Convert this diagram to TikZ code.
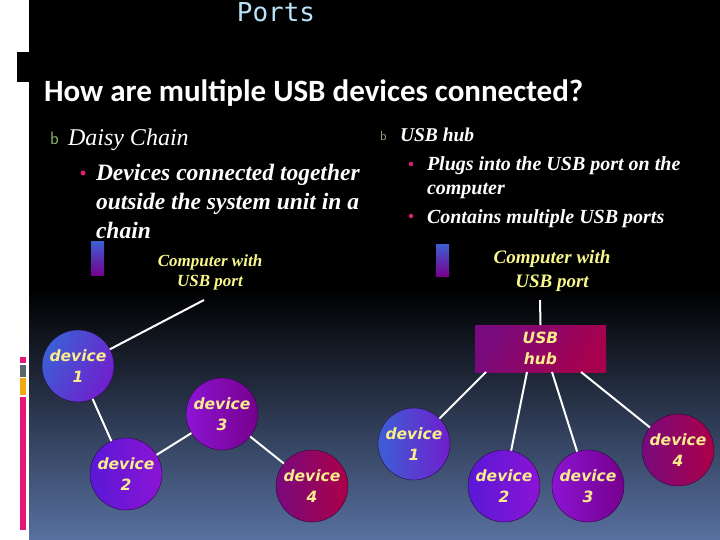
\documentclass[tikz,border=0pt]{standalone}
\usepackage{fontspec}
\setmainfont{Liberation Serif}
\newfontfamily\headfont{Carlito}
\newfontfamily\codefont{DejaVu Sans Mono}
\newfontfamily\devfont{DejaVu Sans}
\definecolor{titleblue}{RGB}{185,228,248}
\definecolor{devtxt}{RGB}{250,238,140}
\definecolor{pctxt}{RGB}{250,248,140}
\definecolor{dotpink}{RGB}{222,30,120}
\definecolor{bgreen}{RGB}{140,180,110}
\definecolor{bgbottom}{RGB}{88,112,160}
\definecolor{linecol}{RGB}{40,10,60}
\definecolor{barpink}{RGB}{228,22,120}
\definecolor{bargray}{RGB}{90,100,110}
\definecolor{barorange}{RGB}{240,170,20}
\definecolor{cblue}{RGB}{60,95,212}
\definecolor{cviolet}{RGB}{112,30,205}
\definecolor{cpurple}{RGB}{140,20,212}
\definecolor{cplum}{RGB}{118,0,140}
\definecolor{cberry}{RGB}{120,10,125}
\definecolor{ccrimson}{RGB}{172,0,72}
\begin{document}
\begin{tikzpicture}[x=1pt,y=1pt,inner sep=0pt,outer sep=0pt,
devnode/.style={circle,draw=linecol,thin,minimum size=72pt,align=center,text=devtxt,
  font={\devfont\bfseries\itshape\fontsize{15.5}{21}\selectfont}},
pcbox/.style={rectangle,minimum width=13pt,minimum height=34pt,top color=cblue,bottom color=cplum},
pclabel/.style 2 args={align=center,text=pctxt,font={\bfseries\itshape\fontsize{#1}{#2}\selectfont}},
link/.style={draw=white,line width=2pt},
dot/.style={circle,fill=dotpink,minimum size=5pt}]
\useasboundingbox (0,0) rectangle (720,-540);
\fill[white] (0,0) rectangle (720,-540);
\fill[black] (29,0) rectangle (720,-290);
\shade[top color=black,bottom color=bgbottom] (29,-290) rectangle (720,-540);
\fill[black] (17,-52) rectangle (29,-82);
\fill[barpink] (20,-357) rectangle (26,-363);
\fill[bargray] (20,-365) rectangle (26,-377);
\fill[barorange] (20,-378) rectangle (26,-395);
\fill[barpink] (20,-397) rectangle (26,-530);
\draw (276,-22) node[anchor=base,text=titleblue,font={\codefont\fontsize{26}{30}\selectfont}] (ttl) {Ports};
\draw (44,-102) node[anchor=base west,text=white,font={\headfont\bfseries\fontsize{31}{36}\selectfont}] (qst) {How are multiple USB devices connected?};
% daisy chain text
\draw (50,-145) node[anchor=base west,text=bgreen,font={\sffamily\fontsize{18}{20}\selectfont}] (bA) {b};
\draw (68,-146) node[anchor=base west,text=white,font={\itshape\fontsize{24}{29}\selectfont}] (dsy) {Daisy Chain};
\draw (83,-173) node[dot] (dotA) {};
\draw (96,-181) node[anchor=base west,text=white,font={\bfseries\itshape\fontsize{23.5}{29}\selectfont}] (dsyA) {Devices connected together};
\draw (96,-210) node[anchor=base west,text=white,font={\bfseries\itshape\fontsize{23.5}{29}\selectfont}] (dsyB) {outside the system unit in a};
\draw (96,-238) node[anchor=base west,text=white,font={\bfseries\itshape\fontsize{23.5}{29}\selectfont}] (dsyC) {chain};
% hub text
\draw (380,-141) node[anchor=base west,text=bgreen!80!gray,font={\sffamily\fontsize{13}{15}\selectfont}] (bB) {b};
\draw (400,-142) node[anchor=base west,text=white,font={\bfseries\itshape\fontsize{19.5}{24}\selectfont}] (hbt) {USB hub};
\draw (411,-164) node[dot,minimum size=4.5pt] (dotB) {};
\draw (427,-171) node[anchor=base west,text=white,font={\bfseries\itshape\fontsize{20}{24}\selectfont}] (hbtA) {Plugs into the USB port on the};
\draw (427,-195) node[anchor=base west,text=white,font={\bfseries\itshape\fontsize{20}{24}\selectfont}] (hbtB) {computer};
\draw (411,-216) node[dot,minimum size=4.5pt] (dotC) {};
\draw (427,-223) node[anchor=base west,text=white,font={\bfseries\itshape\fontsize{20}{24}\selectfont}] (hbtC) {Contains multiple USB ports};
% daisy chain picture
\draw (97.5,-258.5) node[pcbox] (pcA) {};
\draw (210,-272) node[pclabel={17}{20}] (pcAl) {Computer with\\USB port};
\coordinate (pcAp) at (204,-300);
\draw (78,-366) node[devnode,left color=cblue,right color=cviolet,shading angle=60] (dcA) {device\\1};
\draw (126,-474) node[devnode,left color=cviolet!80!blue,right color=cpurple] (dcB) {device\\2};
\draw (222,-414) node[devnode,left color=cpurple,right color=cplum] (dcC) {device\\3};
\draw (312,-486) node[devnode,left color=cberry,right color=ccrimson] (dcD) {device\\4};
\draw[link] (pcAp) -- (dcA);
\draw[link] (dcA) -- (dcB);
\draw[link] (dcB) -- (dcC);
\draw[link] (dcC) -- (dcD);
% hub picture
\draw (442.5,-260) node[pcbox,minimum height=32pt] (pcB) {};
\draw (552,-271) node[pclabel={19}{23.5}] (pcBl) {Computer with\\USB port};
\coordinate (pcBp) at (540,-300);
\draw (540.5,-348.5) node[rectangle,minimum width=131pt,minimum height=47pt,left color=cberry,right color=ccrimson!90!cberry,shading angle=60,align=center,text=devtxt,
  font={\devfont\bfseries\itshape\fontsize{15.5}{21}\selectfont}] (hub) {USB\\hub};
\draw (414,-444) node[devnode,left color=cblue,right color=cviolet] (hdA) {device\\1};
\draw (504,-486) node[devnode,left color=cviolet!80!blue,right color=cpurple] (hdB) {device\\2};
\draw (588,-486) node[devnode,left color=cpurple,right color=cplum] (hdC) {device\\3};
\draw (678,-450) node[devnode,left color=cberry,right color=ccrimson] (hdD) {device\\4};
\draw[link] (pcBp) -- (hub.north);
\draw[link] ([xshift=11pt]hub.south west) -- (hdA);
\draw[link] ([xshift=52pt]hub.south west) -- (hdB);
\draw[link] ([xshift=77pt]hub.south west) -- (hdC);
\draw[link] ([xshift=106pt]hub.south west) -- (hdD);
\end{tikzpicture}
\end{document}
